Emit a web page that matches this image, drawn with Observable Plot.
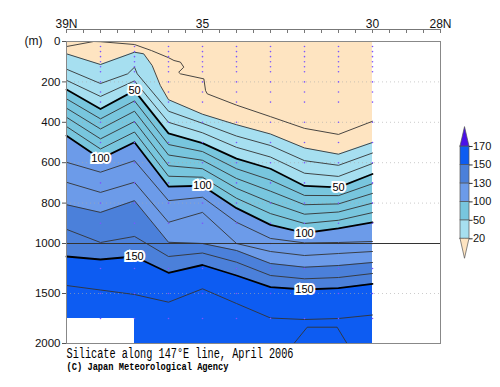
<!DOCTYPE html>
<html><head><meta charset="utf-8">
<script src="https://cdn.jsdelivr.net/npm/d3@7"></script>
<script src="https://cdn.jsdelivr.net/npm/@observablehq/plot@0.6"></script>
<style>
html,body{margin:0;padding:0;background:#fff;}
#chart{position:relative;width:500px;height:387px;overflow:hidden;}
#chart svg{position:absolute;left:0;top:0;}
</style></head><body><div id="chart"></div>
<script>
// ---- data (depth in m of each silicate isoline at each station) ----
const lats = [39, 38, 37, 36, 35, 34, 33, 32, 31, 30];
const d20  = [61, 114, 53, 288, 360, 412, 458, 527, 558, 500];
const d30  = [137, 208, 127, 345, 405, 468, 515, 590, 613, 552];
const d40  = [192, 272, 195, 400, 452, 524, 572, 652, 668, 604];
const d50  = [238, 334, 243, 455, 503, 580, 630, 715, 722, 656];
const d60  = [284, 383, 294, 510, 545, 630, 686, 762, 763, 704];
const d70  = [330, 433, 345, 562, 588, 678, 741, 808, 804, 752];
const d80  = [375, 482, 396, 615, 630, 727, 797, 855, 844, 800];
const d90  = [421, 532, 448, 667, 672, 776, 852, 901, 885, 847];
const d100 = [466, 581, 499, 718, 714, 825, 908, 948, 925, 895];
const d110 = [598, 647, 590, 788, 771, 895, 975, 997, 995, 990];
const d120 = [697, 747, 697, 895, 846, 1000, 1080, 1120, 1100, 1080];
const d130 = [808, 846, 788, 994, 1000, 1070, 1200, 1237, 1220, 1190];
const d140 = [930, 995, 965, 1130, 1095, 1187, 1320, 1353, 1340, 1300];
const d150 = [1130, 1160, 1130, 1293, 1215, 1320, 1437, 1460, 1447, 1403];
const d160 = [1420, 1465, 1510, 1587, 1453, 1600, 1745, 1760, 1750, 1715];
// irregular isoline pieces: [lat, depth]
const c10 = [[39,25],[38.2,0],[38,1],[37,15],[36.5,45],[36,80],[35.84,94],[35.65,102],[35.55,127],[35.7,152],[35.65,160],[34.96,185],[34.91,243],[34.86,259],[34,315],[33,372],[32,430],[31,460],[30,395]];
const x20 = [[36.73,61],[36.48,119],[36.24,218]];
const x30 = [[37.2,160],[36.92,160]];
const c170 = [[32.31,2000],[31.92,1837],[31.04,1837],[30.75,2000]];
// no-data box at the bottom left
const gapLat = [39, 37];
const gapDepth = [1750, 2000];
// bottle sampling depths and stations with samples
const sampleLats = [38, 37, 36, 35, 34, 33, 32, 31, 30];
const sampleDepths = [25, 50, 75, 100, 125, 150, 200, 250, 300, 400, 500, 600, 700, 800, 900, 1000, 1250, 1500, 1750];
// contour labels
const labelLat = [37, 38, 35, 31, 32, 37, 32];
const labelDepth = [243, 581, 714, 722, 948, 1130, 1460];
const labelText = ["50", "100", "100", "50", "100", "150", "150"];
// axes
const xLabelLats = [39, 35, 30, 28];
const xLabels = ["39N", "35", "30", "28N"];
const yTicks = [0, 200, 400, 600, 800, 1000, 1500, 2000];
const gridDepths = [200, 400, 600, 800, 1500];
// colour legend
const legendLevels = [20, 50, 100, 130, 150, 170];
const fillColors = ["#fee4c1", "#a6dff0", "#78c6de", "#6c9be9", "#4b80da", "#0d5cf2", "#4a10e8"];
const title1 = "Silicate along 147\u00b0E line, April 2006";
const title2 = "(C) Japan Meteorological Agency";

// ---- build rows ----
function rows(level, arr, extra = []) {
  const pts = lats.map((lat, i) => [lat, arr[i]]).concat(extra);
  pts.sort((a, b) => b[0] - a[0]);
  return pts.map(([lat, depth]) => ({level, lat, depth}));
}
const pairRows = (level, pts) => pts.map(([lat, depth]) => ({level, lat, depth}));
const byLevel = {
  20: rows(20, d20, x20), 30: rows(30, d30, x30), 40: rows(40, d40), 50: rows(50, d50),
  60: rows(60, d60), 70: rows(70, d70), 80: rows(80, d80), 90: rows(90, d90), 100: rows(100, d100),
  110: rows(110, d110), 120: rows(120, d120), 130: rows(130, d130), 140: rows(140, d140),
  150: rows(150, d150), 160: rows(160, d160)
};
const thinLines = [...pairRows(10, c10), ...pairRows(170, c170)];
for (const k of [20,30,40,60,70,80,90,110,120,130,140,160]) thinLines.push(...byLevel[k]);
const thickLines = [...byLevel[50], ...byLevel[100], ...byLevel[150]];
const dots = sampleLats.flatMap(lat => sampleDepths.map(depth => ({lat, depth})));
const halfTicks = d3.range(28, 39.001, 0.5);

const main = Plot.plot({
  width: 500, height: 387,
  marginLeft: 66, marginRight: 60, marginTop: 41, marginBottom: 44,
  x: {domain: [39, 28], range: [66, 440], axis: null},
  y: {type: "linear", domain: [0, 1000, 2000], range: [41, 243, 343], axis: null},
  style: {fontFamily: "'Liberation Sans', Arial, sans-serif", fontSize: "12px", color: "#111", background: "white"},
  marks: [
    Plot.areaY(lats, {x: d => d, y1: 0, y2: 2000, fill: fillColors[5]}),
    Plot.areaY(byLevel[150], {x: "lat", y1: 0, y2: "depth", fill: fillColors[4]}),
    Plot.areaY(byLevel[130], {x: "lat", y1: 0, y2: "depth", fill: fillColors[3]}),
    Plot.areaY(byLevel[100], {x: "lat", y1: 0, y2: "depth", fill: fillColors[2]}),
    Plot.areaY(byLevel[50], {x: "lat", y1: 0, y2: "depth", fill: fillColors[1]}),
    Plot.areaY(byLevel[20], {x: "lat", y1: 0, y2: "depth", fill: fillColors[0]}),
    Plot.rect([0], {x1: gapLat[0], x2: gapLat[1], y1: gapDepth[0], y2: gapDepth[1], fill: "white"}),
    Plot.ruleY(gridDepths, {stroke: "#aaa", strokeDasharray: "1,3", strokeOpacity: 0.6}),
    Plot.line(thinLines, {x: "lat", y: "depth", z: "level", stroke: "#333", strokeWidth: 0.9}),
    Plot.line(thickLines, {x: "lat", y: "depth", z: "level", stroke: "#000", strokeWidth: 1.8}),
    Plot.dot(dots, {x: "lat", y: "depth", r: 0.8, fill: "#7b55ff", stroke: null}),
    Plot.ruleY([1000], {stroke: "#333", strokeWidth: 1}),
    Plot.text(labelLat, {x: d => d, y: (d, i) => labelDepth[i], text: (d, i) => labelText[i],
      fontSize: 11, fill: "#000", stroke: "white", strokeWidth: 4, strokeLinejoin: "miter"}),
    Plot.frame({stroke: "#888"}),
    // top axis
    Plot.ruleY([0], {x1: 39, x2: 28, dy: -12, stroke: "#777"}),
    Plot.tickX(halfTicks, {x: d => d, stroke: "#777", insetTop: -12, insetBottom: 310}),
    Plot.text(xLabelLats, {x: d => d, text: (d, i) => xLabels[i], frameAnchor: "top", dy: -14, lineAnchor: "bottom", fontSize: 12, fill: "#111"}),
    // left axis
    Plot.axisY(yTicks, {tickSize: 4, tickPadding: 2, fontSize: 11.5, label: null, tickFormat: d => String(d), stroke: "#555", fill: "#111"}),
    Plot.text(["(m)"], {frameAnchor: "top-left", dx: -33, textAnchor: "middle", lineAnchor: "middle", fontSize: 12, fill: "#111"}),
    // titles
    Plot.text([title1], {frameAnchor: "bottom-left", dy: 10.5, textAnchor: "start", lineAnchor: "middle", fontFamily: "'Liberation Mono', monospace", fontSize: 14, fill: "#000"}),
    Plot.text([title2], {frameAnchor: "bottom-left", dy: 23, textAnchor: "start", lineAnchor: "middle", fontFamily: "'Liberation Mono', monospace", fontWeight: "bold", fontSize: 11, fill: "#000"})
  ]
});

const legend = Plot.plot({
  width: 500, height: 387, margin: 0,
  x: {domain: [0, 1], range: [460, 469], axis: null},
  y: {domain: [0, 5], range: [238.3, 146], axis: null},
  color: {type: "identity"},
  style: {fontFamily: "'Liberation Sans', Arial, sans-serif", background: "transparent"},
  marks: [
    Plot.rect(d3.range(5), {x1: 0, x2: 1, y1: i => i, y2: i => i + 1, fill: i => fillColors[i + 1], stroke: "#555", strokeWidth: 0.7}),
    Plot.areaY([[0, 0], [0.5, -1.08], [1, 0]], {x: d => d[0], y1: 0, y2: d => d[1], fill: fillColors[0], stroke: "#555", strokeWidth: 0.7}),
    Plot.areaY([[0, 5], [0.5, 6.05], [1, 5]], {x: d => d[0], y1: 5, y2: d => d[1], fill: fillColors[6], stroke: "#555", strokeWidth: 0.7}),
    Plot.ruleY(d3.range(6), {x1: 1, x2: 1.4, stroke: "#333"}),
    Plot.text(legendLevels, {x: 1, y: (d, i) => i, text: d => String(d), textAnchor: "start", dx: 3.5, fontSize: 11, fill: "#111"})
  ]
});

const chart = document.getElementById("chart");
chart.appendChild(main);
chart.appendChild(legend);
legend.style.pointerEvents = "none";
for (const t of main.querySelectorAll("text")) {
  if (t.textContent === title1) { t.setAttribute("textLength", "227"); t.setAttribute("lengthAdjust", "spacingAndGlyphs"); }
  if (t.textContent === title2) { t.setAttribute("textLength", "162"); t.setAttribute("lengthAdjust", "spacingAndGlyphs"); }
}
</script></body></html>
